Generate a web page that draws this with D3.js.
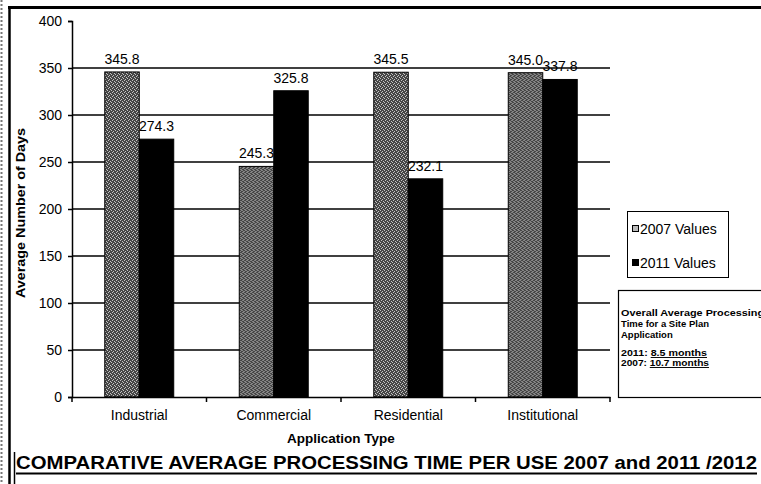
<!DOCTYPE html>
<html>
<head>
<meta charset="utf-8">
<script src="https://cdn.jsdelivr.net/npm/d3@7"></script>
<style>
  html, body { margin: 0; padding: 0; background: #fff; }
  svg { display: block; font-family: "Liberation Sans", Arial, sans-serif; }
</style>
</head>
<body>
<svg id="chart" width="761" height="484"></svg>
<script>
// Average processing time (days) by application type
const categories = ["Industrial", "Commercial", "Residential", "Institutional"];
const series = ["2007 Values", "2011 Values"];
const values2007 = [345.8, 245.3, 345.5, 345.0];
const values2011 = [274.3, 325.8, 232.1, 337.8];
const yTicks = [0, 50, 100, 150, 200, 250, 300, 350, 400];
const infoLines = ["Overall Average Processing", "Time for a Site Plan", "Application"];
const infoYears = ["2011:", "2007:"];
const infoMonths = ["8.5 months", "10.7 months"];

const svg = d3.select("#chart");
const plot = { left: 72, right: 610, top: 21, bottom: 397 };

// Stippled grey fill for the 2007 bars
const defs = svg.append("defs");
const pat = defs.append("pattern")
  .attr("id", "stipple").attr("patternUnits", "userSpaceOnUse")
  .attr("width", 4).attr("height", 4);
pat.append("rect").attr("width", 4).attr("height", 4).attr("fill", "#464646");
[[0,0],[2,1],[1,3],[3,2]].forEach(([px,py]) =>
  pat.append("rect").attr("x", px).attr("y", py).attr("width", 1).attr("height", 1).attr("fill", "#c4c4c4"));

const fills = { "2007 Values": "url(#stipple)", "2011 Values": "#000" };

const y = d3.scaleLinear().domain([0, 400]).range([plot.bottom, plot.top]);
const x0 = d3.scaleBand().domain(categories).range([plot.left, plot.right]).padding(0);
const x1 = d3.scaleBand().domain(series).range([0, x0.bandwidth()]).paddingInner(0).paddingOuter(0.95);

// Page frame
svg.append("line").attr("x1", 8).attr("x2", 761).attr("y1", 7.5).attr("y2", 7.5)
  .attr("stroke", "#000").attr("stroke-width", 3);
svg.append("line").attr("x1", 9.5).attr("x2", 9.5).attr("y1", 6).attr("y2", 484)
  .attr("stroke", "#000").attr("stroke-width", 2.5);
svg.append("line").attr("x1", 1.5).attr("x2", 1.5).attr("y1", 0).attr("y2", 484)
  .attr("stroke", "#777").attr("stroke-width", 2).attr("stroke-dasharray", "2,2");
svg.append("line").attr("x1", 14.5).attr("x2", 14.5).attr("y1", 452).attr("y2", 484)
  .attr("stroke", "#000").attr("stroke-width", 1.5);

// Horizontal gridlines
svg.append("g").selectAll("line")
  .data(yTicks.filter(t => t > 0 && t < 400))
  .join("line")
  .attr("x1", plot.left).attr("x2", plot.right)
  .attr("y1", d => y(d)).attr("y2", d => y(d))
  .attr("stroke", "#000").attr("stroke-width", 1.5);

// Bars
const groups = svg.append("g").selectAll("g")
  .data(categories.map((c, i) => ({ c, v: [values2007[i], values2011[i]] })))
  .join("g")
  .attr("transform", d => `translate(${x0(d.c)},0)`);

groups.selectAll("rect")
  .data(d => series.map((s, j) => ({ s, v: d.v[j] })))
  .join("rect")
  .attr("x", d => x1(d.s))
  .attr("width", x1.bandwidth())
  .attr("y", d => y(d.v))
  .attr("height", d => y(0) - y(d.v))
  .attr("fill", d => fills[d.s])
  .attr("stroke", "#000")
  .attr("stroke-width", 1);

groups.selectAll("text")
  .data(d => series.map((s, j) => ({ s, v: d.v[j] })))
  .join("text")
  .attr("x", d => x1(d.s) + x1.bandwidth() / 2)
  .attr("y", d => y(d.v) - 8)
  .attr("text-anchor", "middle")
  .attr("font-size", 14)
  .attr("fill", "#000")
  .text(d => d.v.toFixed(1));

// Y axis
const yAxis = svg.append("g")
  .attr("transform", `translate(${plot.left},0)`)
  .call(d3.axisLeft(y).tickValues(yTicks).tickSize(4).tickPadding(6));
yAxis.select(".domain").attr("stroke-width", 1.5);
yAxis.selectAll(".tick line").attr("stroke-width", 1.5);
yAxis.selectAll(".tick text").attr("font-size", 14).attr("font-family", "Liberation Sans, Arial, sans-serif").attr("fill", "#000");

// X axis
const xAxis = svg.append("g")
  .attr("transform", `translate(0,${plot.bottom})`)
  .call(d3.axisBottom(x0).tickSize(0).tickPadding(13));
xAxis.select(".domain").attr("stroke-width", 1.5);
xAxis.selectAll(".tick text").attr("font-size", 14).attr("font-family", "Liberation Sans, Arial, sans-serif").attr("fill", "#000");
// Category separator ticks
xAxis.append("g").selectAll("line")
  .data(categories.map(c => x0(c)).concat([plot.right]))
  .join("line")
  .attr("x1", d => d).attr("x2", d => d).attr("y1", 0).attr("y2", 5)
  .attr("stroke", "#000").attr("stroke-width", 1.5);

// Axis titles
svg.append("text")
  .attr("transform", "translate(25,213) rotate(-90)")
  .attr("text-anchor", "middle")
  .attr("font-size", 13).attr("font-weight", "bold")
  .attr("textLength", 170).attr("lengthAdjust", "spacingAndGlyphs")
  .text("Average Number of Days");

svg.append("text")
  .attr("x", (plot.left + plot.right) / 2).attr("y", 443)
  .attr("text-anchor", "middle")
  .attr("font-size", 13.5).attr("font-weight", "bold")
  .text("Application Type");

// Legend
const legend = svg.append("g");
legend.append("rect").attr("x", 627.5).attr("y", 211.5).attr("width", 101).attr("height", 66)
  .attr("fill", "#fff").attr("stroke", "#000").attr("stroke-width", 1);
series.forEach((s, i) => {
  const ly = 229 + i * 34;
  legend.append("rect").attr("x", 632.5).attr("y", ly - 3.5).attr("width", 6).attr("height", 6)
    .attr("fill", i === 0 ? "#bbb" : "#000").attr("stroke", "#000").attr("stroke-width", 1);
  legend.append("text").attr("x", 640).attr("y", ly + 5)
    .attr("font-size", 14).text(s);
});

// Summary box
const info = svg.append("g");
info.append("rect").attr("x", 618.5).attr("y", 290.5).attr("width", 160).attr("height", 107)
  .attr("fill", "#fff").attr("stroke", "#000").attr("stroke-width", 1.2);
infoLines.forEach((t, i) => {
  const line = info.append("text").attr("x", 621).attr("y", 316 + i * 11)
    .attr("font-size", 9.5).attr("font-weight", "bold")
    .text(t);
  if (i === 0) line.attr("textLength", 143).attr("lengthAdjust", "spacingAndGlyphs");
});
const yearWidths = [86, 88];
infoYears.forEach((t, i) => {
  const ty = 356 + i * 10;
  const txt = info.append("text").attr("x", 621).attr("y", ty)
    .attr("font-size", 9.5).attr("font-weight", "bold")
    .attr("textLength", yearWidths[i]).attr("lengthAdjust", "spacingAndGlyphs");
  txt.append("tspan").text(t + " ");
  txt.append("tspan").attr("text-decoration", "underline").text(infoMonths[i]);
});

// Title
svg.append("text")
  .attr("x", 16).attr("y", 469)
  .attr("font-size", 18).attr("font-weight", "bold")
  .attr("textLength", 741).attr("lengthAdjust", "spacingAndGlyphs")
  .text("COMPARATIVE AVERAGE PROCESSING TIME PER USE 2007 and 2011 /2012");
svg.append("line").attr("x1", 16).attr("x2", 757).attr("y1", 473.5).attr("y2", 473.5)
  .attr("stroke", "#000").attr("stroke-width", 2);
</script>
</body>
</html>
